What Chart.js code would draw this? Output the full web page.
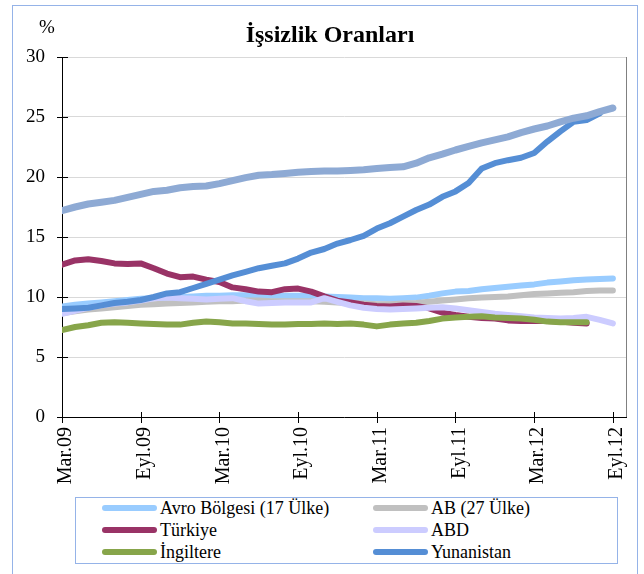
<!DOCTYPE html>
<html>
<head>
<meta charset="utf-8">
<script src="https://cdn.jsdelivr.net/npm/chart.js@4.4.1/dist/chart.umd.min.js"></script>
<style>
  body { margin: 0; background: #fff; overflow: hidden; }
  #wrap { position: relative; width: 644px; height: 574px; overflow: hidden; font-family: "Liberation Serif", "Times New Roman", serif; }
  #frame { position: absolute; left: 12px; top: 5px; width: 624px; height: 640px; border: 1px solid #95b3e8; }
  #title { position: absolute; left: 0; top: 21px; width: 660px; text-align: center; font-size: 24px; font-weight: bold; }
  #unit { position: absolute; left: 39px; top: 16px; font-size: 19px; }
  canvas { position: absolute; left: 0; top: 0; }
  #legend { position: absolute; left: 75px; top: 497px; width: 541px; height: 65px; border: 1px solid #95b3e8; background: #fff; font-size: 18px; }
  .item { position: absolute; height: 22px; display: flex; align-items: center; white-space: nowrap; }
  .swatch { width: 55px; height: 6px; border-radius: 3px; margin-right: 3px; }
</style>
</head>
<body>
<div id="wrap">
  <div id="frame"></div>
  <canvas id="chart" width="644" height="574"></canvas>
  <div id="title">İşsizlik Oranları</div>
  <div id="unit">%</div>
  <div id="legend"></div>
</div>
<script>
const categories = ['Mar.09', 'Nis.09', 'May.09', 'Haz.09', 'Tem.09', 'Ağu.09', 'Eyl.09', 'Eki.09', 'Kas.09', 'Ara.09',
  'Oca.10', 'Şub.10', 'Mar.10', 'Nis.10', 'May.10', 'Haz.10', 'Tem.10', 'Ağu.10', 'Eyl.10', 'Eki.10', 'Kas.10', 'Ara.10',
  'Oca.11', 'Şub.11', 'Mar.11', 'Nis.11', 'May.11', 'Haz.11', 'Tem.11', 'Ağu.11', 'Eyl.11', 'Eki.11', 'Kas.11', 'Ara.11',
  'Oca.12', 'Şub.12', 'Mar.12', 'Nis.12', 'May.12', 'Haz.12', 'Tem.12', 'Ağu.12', 'Eyl.12', 'Eki.12'];

const avroBolgesi = [9.2, 9.35, 9.45, 9.55, 9.65, 9.75, 9.85, 9.9, 9.95, 10.0,
  10.05, 10.1, 10.1, 10.15, 10.15, 10.15, 10.1, 10.1, 10.1, 10.1,
  10.05, 10.0, 9.95, 9.9, 9.9, 9.85, 9.9, 9.95, 10.1, 10.3,
  10.45, 10.5, 10.65, 10.75, 10.85, 10.95, 11.05, 11.2, 11.3, 11.4,
  11.45, 11.5, 11.55];
const ab27 = [8.65, 8.8, 8.95, 9.05, 9.15, 9.25, 9.35, 9.4, 9.45, 9.5,
  9.55, 9.6, 9.65, 9.65, 9.7, 9.7, 9.65, 9.65, 9.65, 9.65,
  9.6, 9.55, 9.5, 9.45, 9.4, 9.4, 9.45, 9.5, 9.6, 9.7,
  9.8, 9.9, 9.95, 10.0, 10.05, 10.15, 10.25, 10.3, 10.35, 10.4,
  10.5, 10.55, 10.55];
const turkiye = [12.7, 13.05, 13.15, 13.0, 12.8, 12.75, 12.8, 12.4, 11.95, 11.65,
  11.7, 11.45, 11.25, 10.8, 10.65, 10.45, 10.4, 10.65, 10.7, 10.45,
  10.05, 9.7, 9.55, 9.35, 9.25, 9.2, 9.3, 9.25, 9.05, 8.7,
  8.5, 8.35, 8.25, 8.2, 8.05, 8.0, 8.0, 8.0, 7.95, 7.85,
  7.8];
const abd = [8.6, 8.85, 9.1, 9.3, 9.45, 9.55, 9.7, 9.9, 9.95, 9.9,
  9.85, 9.8, 9.85, 9.9, 9.65, 9.45, 9.5, 9.55, 9.55, 9.55,
  9.9, 9.6, 9.3, 9.1, 9.0, 8.95, 9.0, 9.05, 9.1, 9.15,
  9.05, 8.9, 8.75, 8.6, 8.5, 8.4, 8.3, 8.25, 8.2, 8.25,
  8.35, 8.1, 7.8];
const ingiltere = [7.25, 7.5, 7.65, 7.85, 7.9, 7.85, 7.8, 7.75, 7.7, 7.7,
  7.85, 7.95, 7.9, 7.8, 7.8, 7.75, 7.7, 7.7, 7.75, 7.75,
  7.8, 7.75, 7.8, 7.7, 7.55, 7.7, 7.8, 7.85, 8.0, 8.2,
  8.3, 8.35, 8.4, 8.3, 8.25, 8.2, 8.1, 7.95, 7.9, 7.9,
  7.9];
const yunanistan = [9.0, 9.05, 9.1, 9.3, 9.5, 9.6, 9.75, 10.0, 10.3, 10.4,
  10.75, 11.1, 11.45, 11.8, 12.1, 12.4, 12.6, 12.8, 13.2, 13.7,
  14.0, 14.45, 14.75, 15.1, 15.7, 16.15, 16.7, 17.25, 17.7, 18.35,
  18.8, 19.5, 20.7, 21.15, 21.4, 21.6, 22.0, 22.95, 23.8, 24.6,
  24.75, 25.3];
// top line, not listed in the legend
const ispanya = [17.2, 17.5, 17.75, 17.9, 18.05, 18.3, 18.55, 18.8, 18.9, 19.1,
  19.2, 19.25, 19.45, 19.7, 19.95, 20.15, 20.2, 20.3, 20.4, 20.45,
  20.5, 20.5, 20.55, 20.6, 20.7, 20.8, 20.85, 21.15, 21.6, 21.9,
  22.25, 22.55, 22.85, 23.1, 23.35, 23.7, 24.0, 24.25, 24.6, 24.9,
  25.1, 25.45, 25.75];

const yTicks = [0, 5, 10, 15, 20, 25, 30];
const serif = '"Liberation Serif", "Times New Roman", serif';

function series(label, data, color, order, width) {
  return {
    label, data, order,
    borderColor: color,
    backgroundColor: color,
    borderWidth: width || 6,
    borderCapStyle: 'round',
    borderJoinStyle: 'round',
    pointRadius: 0,
    tension: 0,
    clip: { left: 0, top: 8, right: 8, bottom: 0 }
  };
}

const datasets = [
  series('Avro Bölgesi (17 Ülke)', avroBolgesi, '#99ccff', 7),
  series('AB (27 Ülke)', ab27, '#c0c0c0', 6),
  series('Türkiye', turkiye, '#993366', 5),
  series('ABD', abd, '#ccccff', 4),
  series('İngiltere', ingiltere, '#87a54a', 3),
  series('Yunanistan', yunanistan, '#558ed5', 2),
  Object.assign(series('İspanya', ispanya, '#8eaad4', 1, 7), { inLegend: false })
];

// crossing tick marks and the right border of the plot area
const axisMarks = {
  id: 'axisMarks',
  beforeDatasetsDraw(chart) {
    const { ctx, chartArea: a, scales: { x, y } } = chart;
    ctx.save();
    ctx.lineWidth = 1;
    ctx.strokeStyle = '#808080';
    ctx.beginPath();
    ctx.moveTo(Math.round(a.right) + 0.5, a.top);
    ctx.lineTo(Math.round(a.right) + 0.5, a.bottom);
    ctx.stroke();
    ctx.strokeStyle = '#000';
    ctx.beginPath();
    yTicks.forEach(v => {
      const py = Math.round(y.getPixelForValue(v)) + 0.5;
      ctx.moveTo(a.left - 5, py);
      ctx.lineTo(a.left + 6, py);
    });
    categories.forEach((c, i) => {
      if (i % 6) return;
      const px = Math.round(x.getPixelForValue(i)) + 0.5;
      ctx.moveTo(px, a.bottom - 5);
      ctx.lineTo(px, a.bottom + 6);
    });
    ctx.stroke();
    ctx.restore();
  }
};

const chart = new Chart(document.getElementById('chart'), {
  type: 'line',
  data: { labels: categories, datasets },
  options: {
    responsive: false,
    animation: false,
    events: [],
    layout: { padding: { left: 2, top: 57, right: 18, bottom: 77 } },
    plugins: {
      legend: { display: false },
      tooltip: { enabled: false },
      title: { display: false }
    },
    scales: {
      x: {
        type: 'category',
        offset: false,
        grid: { drawOnChartArea: false, drawTicks: false },
        border: { display: true, color: '#000', width: 1 },
        afterFit: s => { s.height = 80; s.paddingLeft = 0; s.paddingRight = 0; },
        ticks: {
          autoSkip: false,
          minRotation: 90,
          maxRotation: 90,
          padding: 10,
          labelOffset: 4,
          color: '#000',
          font: { family: serif, size: 20 },
          callback: (v, i) => (i % 6 === 0 ? categories[i] : '')
        }
      },
      y: {
        min: 0,
        max: 30,
        afterFit: s => { s.width = 60; s.paddingTop = 0; s.paddingBottom = 0; },
        afterBuildTicks: s => { s.ticks = yTicks.map(v => ({ value: v })); },
        grid: { color: '#d9d9d9', drawTicks: false },
        border: { display: true, color: '#000', width: 1 },
        ticks: {
          padding: 17,
          color: '#000',
          font: { family: serif, size: 19 }
        }
      }
    }
  },
  plugins: [axisMarks]
});

// two-column legend like the original
const legendBox = document.getElementById('legend');
chart.data.datasets.filter(d => d.inLegend !== false).forEach((d, i) => {
  const item = document.createElement('div');
  item.className = 'item';
  item.style.left = (i % 2 === 0 ? 26 : 297) + 'px';
  item.style.top = (-1 + Math.floor(i / 2) * 22) + 'px';
  const sw = document.createElement('span');
  sw.className = 'swatch';
  sw.style.background = d.borderColor;
  const tx = document.createElement('span');
  tx.textContent = d.label;
  item.appendChild(sw);
  item.appendChild(tx);
  legendBox.appendChild(item);
});
</script>
</body>
</html>
